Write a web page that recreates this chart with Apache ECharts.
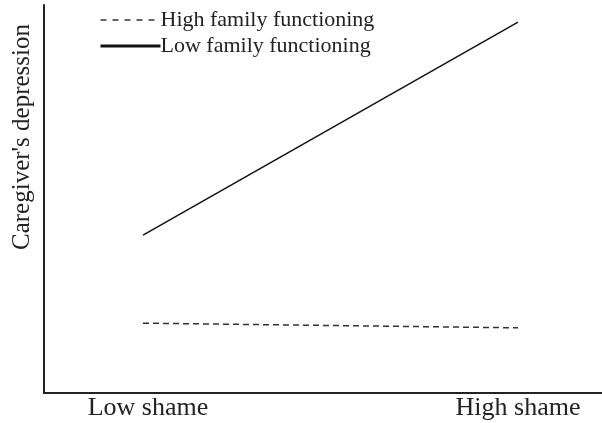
<!DOCTYPE html>
<html><head><meta charset="utf-8">
<script src="https://cdn.jsdelivr.net/npm/echarts@6/dist/echarts.min.js"></script>
<style>html,body{margin:0;padding:0;background:#fff}#c{width:602px;height:423px}</style>
</head><body><div id="c"></div>
<script>
const categories = ['Low shame', 'High shame'];
const xPositions = [1, 2];
const highFamily = [1.80, 1.68];
const lowFamily = [4.07, 9.56];
const seriesNames = ['High family functioning', 'Low family functioning'];
const yTitle = "Caregiver's depression";

const font = '"Liberation Serif", "DejaVu Serif", serif';
const chart = echarts.init(document.getElementById('c'));
chart.setOption({
  animation: false,
  textStyle: { fontFamily: font },
  grid: { left: 44, right: 0, top: 5, bottom: 30 },
  legend: {
    orient: 'vertical', left: 94, top: 4, itemGap: 4,
    itemWidth: 60, itemHeight: 14,
    itemStyle: { opacity: 0 },
    textStyle: { fontFamily: font, fontSize: 22, color: '#222', padding: [0, 0, 0, -5] },
    data: [
      { name: seriesNames[0], lineStyle: { width: 1.5, type: [6, 6] } },
      { name: seriesNames[1], lineStyle: { width: 3 } }
    ]
  },
  xAxis: {
    type: 'value', min: 0.736, max: 2.224,
    axisLine: { show: true, lineStyle: { color: '#222', width: 2 } },
    axisTick: { show: false },
    splitLine: { show: false },
    axisLabel: {
      customValues: xPositions,
      formatter: v => {
        const i = xPositions.indexOf(v);
        if (i < 0) return '';
        return i === 0 ? '{a|' + categories[i] + '}' : '{b|' + categories[i] + '}';
      },
      rich: {
        a: { fontFamily: font, fontSize: 26, color: '#222', padding: [0, 0, 0, 10] },
        b: { fontFamily: font, fontSize: 26, color: '#222' }
      },
      fontFamily: font, fontSize: 26, color: '#222', margin: 2
    }
  },
  yAxis: {
    type: 'value', min: 0, max: 10,
    name: yTitle, nameLocation: 'middle', nameGap: 9, nameRotate: 90,
    nameTextStyle: { fontFamily: font, fontSize: 25, color: '#222', padding: [0, 0, 0, 124] },
    axisLine: { show: true, lineStyle: { color: '#222', width: 2 } },
    axisTick: { show: false }, axisLabel: { show: false }, splitLine: { show: false }
  },
  series: [
    { name: seriesNames[0], type: 'line', symbol: 'none',
      data: xPositions.map((x, i) => [x, highFamily[i]]),
      lineStyle: { color: '#333', width: 1.5, type: [6, 4] }, itemStyle: { color: '#333' } },
    { name: seriesNames[1], type: 'line', symbol: 'none',
      data: xPositions.map((x, i) => [x, lowFamily[i]]),
      lineStyle: { color: '#111', width: 1.5 }, itemStyle: { color: '#111' } }
  ]
});
</script></body></html>
